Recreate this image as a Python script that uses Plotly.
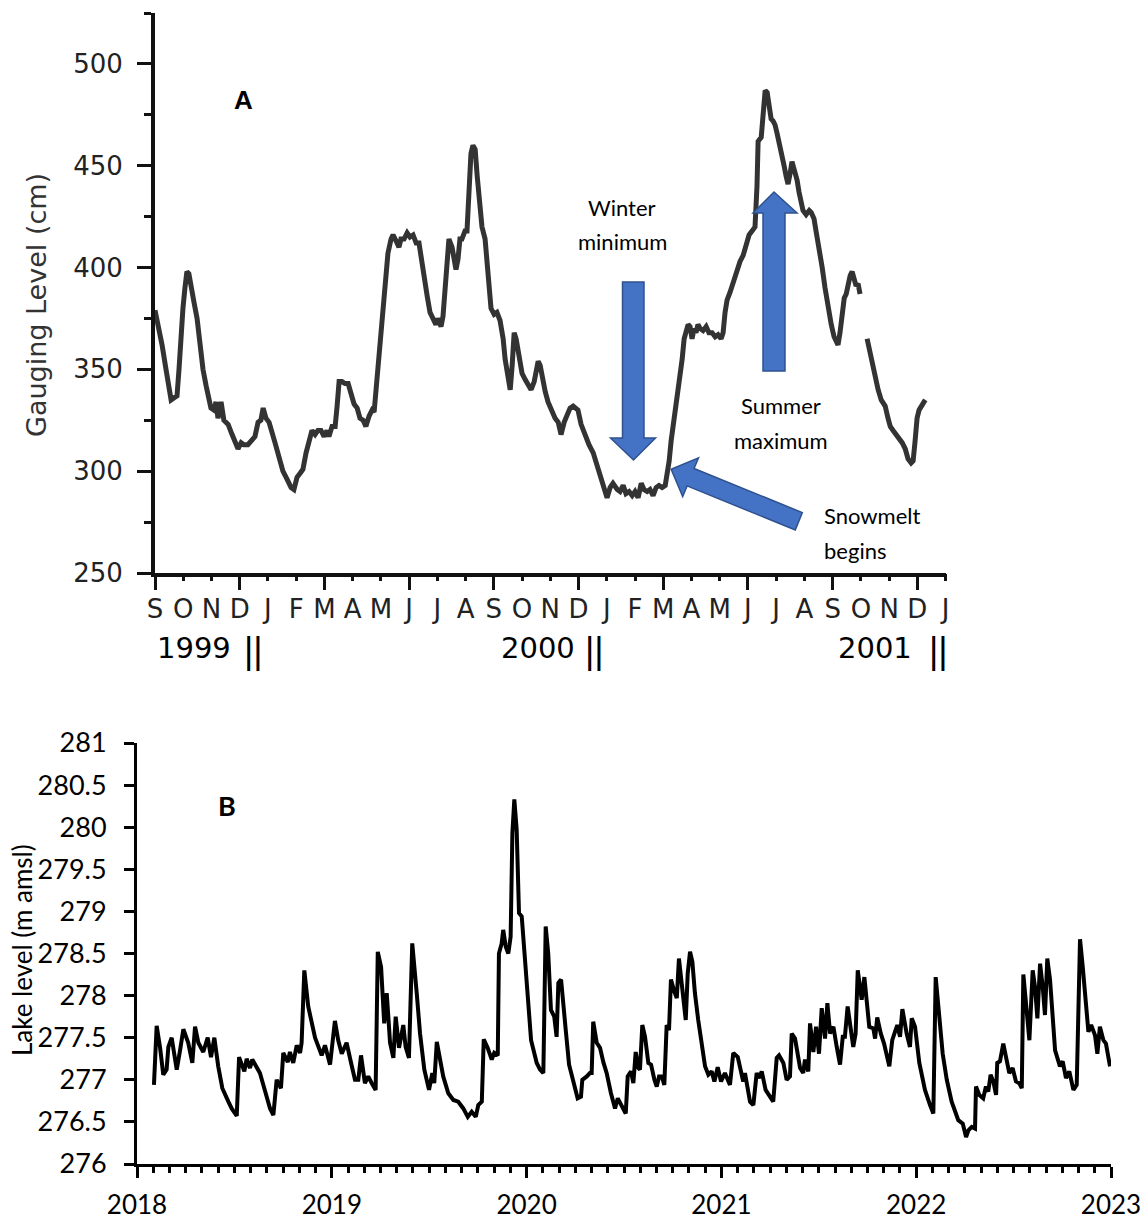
import plotly.graph_objects as go

# ---------------- Panel A data (months since 1 Sep 1999, gauging level cm) ----------------
gauge_month = [
    0.00, 0.11, 0.25, 0.39, 0.50, 0.57, 0.67, 0.78, 0.85, 0.92, 0.99, 1.06, 1.13, 1.20, 1.28, 1.38,
    1.49, 1.59, 1.70, 1.81, 1.91, 1.98, 2.09, 2.16, 2.23, 2.34, 2.44, 2.59, 2.73, 2.83, 2.94, 3.05,
    3.15, 3.29, 3.44, 3.54, 3.65, 3.75, 3.83, 3.93, 4.04, 4.14, 4.25, 4.39, 4.53, 4.68, 4.82, 4.92,
    5.03, 5.14, 5.24, 5.35, 5.46, 5.56, 5.67, 5.77, 5.88, 5.99, 6.09, 6.16, 6.27, 6.38, 6.45, 6.52,
    6.62, 6.73, 6.84, 6.94, 7.05, 7.16, 7.26, 7.37, 7.47, 7.58, 7.69, 7.76, 7.83, 7.90, 7.97, 8.04,
    8.11, 8.18, 8.25, 8.36, 8.43, 8.54, 8.64, 8.71, 8.82, 8.93, 9.03, 9.14, 9.25, 9.35, 9.42, 9.53,
    9.64, 9.74, 9.85, 9.95, 10.02, 10.13, 10.20, 10.27, 10.34, 10.41, 10.52, 10.59, 10.66, 10.73,
    10.80, 10.87, 10.98, 11.05, 11.12, 11.19, 11.26, 11.34, 11.41, 11.48, 11.58, 11.69, 11.76,
    11.83, 11.90, 12.01, 12.11, 12.22, 12.33, 12.40, 12.50, 12.58, 12.65, 12.72, 12.79, 12.89,
    13.00, 13.11, 13.21, 13.32, 13.43, 13.50, 13.57, 13.64, 13.71, 13.82, 13.92, 14.03, 14.17,
    14.28, 14.38, 14.49, 14.59, 14.70, 14.81, 14.91, 14.98, 15.09, 15.23, 15.37, 15.52, 15.66,
    15.80, 15.90, 16.01, 16.12, 16.22, 16.37, 16.47, 16.58, 16.68, 16.79, 16.90, 17.00, 17.11,
    17.22, 17.32, 17.43, 17.53, 17.64, 17.75, 17.85, 17.96, 18.07, 18.14, 18.21, 18.28, 18.35,
    18.46, 18.53, 18.60, 18.67, 18.74, 18.81, 18.88, 18.95, 19.02, 19.09, 19.16, 19.23, 19.31,
    19.41, 19.52, 19.62, 19.73, 19.84, 19.94, 20.05, 20.12, 20.19, 20.26, 20.37, 20.47, 20.58,
    20.72, 20.83, 20.94, 21.04, 21.15, 21.25, 21.32, 21.36, 21.47, 21.54, 21.61, 21.68, 21.75,
    21.82, 21.89, 21.96, 22.03, 22.10, 22.17, 22.28, 22.35, 22.42, 22.49, 22.56, 22.64, 22.74,
    22.81, 22.88, 22.95, 23.06, 23.17, 23.24, 23.34, 23.41, 23.52, 23.63, 23.73, 23.84, 23.95,
    24.05, 24.12, 24.19, 24.26, 24.34, 24.41, 24.48, 24.55, 24.62, 24.69, 24.76, 24.83, 24.90,
    24.97, None,
    25.22, 25.29, 25.40, 25.50, 25.61, 25.72, 25.79, 25.86, 25.96, 26.04, 26.14, 26.25, 26.35,
    26.46, 26.57, 26.67, 26.78, 26.85, 26.92, 26.99, 27.06, 27.17, 27.28,
]
gauge_cm = [
    379, 372, 362, 350, 340, 335, 336, 337, 350, 370, 380, 390, 398, 397, 392, 383,
    375, 360, 350, 342, 334, 331, 330, 334, 326, 334, 325, 323, 318, 314, 311, 314,
    313, 313, 315, 317, 324, 325, 331, 326, 324, 318, 314, 307, 300, 296, 292, 291,
    297, 299, 301, 309, 314, 320, 318, 320, 320, 317, 320, 317, 322, 322, 332, 344,
    344, 343, 343, 338, 333, 331, 326, 325, 322, 327, 330, 329, 340, 352, 362, 375,
    387, 398, 407, 414, 416, 413, 410, 414, 414, 417, 415, 416, 412, 412, 405, 396,
    386, 378, 374, 372, 375, 371, 376, 390, 403, 414, 410, 402, 399, 404,
    414, 414, 418, 418, 440, 456, 460, 458, 445, 432, 420, 414, 400,
    388, 380, 377, 378, 374, 365, 355, 345, 340, 352, 368, 365, 355,
    348, 345, 342, 340, 344, 350, 354, 352, 346, 339, 334, 330, 326,
    324, 318, 324, 328, 331, 332, 331, 330, 323, 317, 313, 309, 303,
    297, 292, 287, 292, 294, 291, 290, 293, 289, 290, 288, 290, 287,
    294, 291, 290, 291, 288, 292, 293, 292, 293, 298, 305, 315, 322,
    332, 340, 345, 355, 365, 370, 372, 371, 365, 370, 368, 372, 370,
    369, 371, 368, 368, 366, 367, 365, 368, 378, 384, 388, 392, 398,
    403, 406, 411, 416, 418, 420, 440, 462, 464, 480, 487, 486, 478,
    473, 472, 470, 466, 462, 458, 450, 445, 441, 446, 452, 448, 443,
    437, 433, 428, 426, 428, 427, 424, 418, 410, 400, 390, 380, 372,
    366, 364, 362, 368, 378, 385, 387, 392, 396, 398, 395, 391, 392,
    387, None,
    365, 360, 352, 345, 340, 335, 333, 332, 326, 322, 320, 318, 316,
    314, 311, 306, 304, 305, 315, 326, 330, 333, 335,
]
month_labels = ["S", "O", "N", "D", "J", "F", "M", "A", "M", "J", "J", "A", "S", "O", "N",
                "D", "J", "F", "M", "A", "M", "J", "J", "A", "S", "O", "N", "D", "J"]
gauge_ticks = [250, 300, 350, 400, 450, 500]

# ---------------- Panel B data (decimal year, lake level m amsl) ----------------
lake_year = [
    2018.087, 2018.101, 2018.118, 2018.135, 2018.152, 2018.161, 2018.178, 2018.204, 2018.221,
    2018.238, 2018.263, 2018.284, 2018.298, 2018.315, 2018.340, 2018.363, 2018.380, 2018.397,
    2018.417, 2018.438, 2018.469, 2018.486, 2018.512, 2018.524, 2018.551, 2018.563, 2018.580,
    2018.592, 2018.631, 2018.657, 2018.683, 2018.700, 2018.717, 2018.739, 2018.751, 2018.774,
    2018.785, 2018.802, 2018.820, 2018.837, 2018.845, 2018.859, 2018.879, 2018.914, 2018.931,
    2018.948, 2018.965, 2018.991, 2019.016, 2019.033, 2019.051, 2019.076, 2019.099, 2019.119,
    2019.136, 2019.150, 2019.170, 2019.187, 2019.205, 2019.225, 2019.236, 2019.253, 2019.269,
    2019.282, 2019.299, 2019.316, 2019.328, 2019.345, 2019.367, 2019.379, 2019.396, 2019.413,
    2019.436, 2019.453, 2019.475, 2019.499, 2019.516, 2019.526, 2019.539, 2019.555, 2019.572,
    2019.598, 2019.624, 2019.649, 2019.675, 2019.698, 2019.718, 2019.739, 2019.752, 2019.770,
    2019.780, 2019.800, 2019.821, 2019.834, 2019.852, 2019.858, 2019.872, 2019.880, 2019.893,
    2019.906, 2019.918, 2019.927, 2019.937, 2019.949, 2019.961, 2019.975, 2019.992, 2020.006,
    2020.023, 2020.052, 2020.069, 2020.086, 2020.098, 2020.111, 2020.125, 2020.142, 2020.154,
    2020.163, 2020.177, 2020.188, 2020.201, 2020.218, 2020.240, 2020.262, 2020.279, 2020.286,
    2020.309, 2020.325, 2020.334, 2020.342, 2020.360, 2020.377, 2020.394, 2020.411, 2020.433,
    2020.454, 2020.468, 2020.488, 2020.509, 2020.519, 2020.536, 2020.548, 2020.560, 2020.574,
    2020.582, 2020.594, 2020.608, 2020.625, 2020.639, 2020.656, 2020.668, 2020.680, 2020.694,
    2020.707, 2020.719, 2020.731, 2020.741, 2020.758, 2020.771, 2020.782, 2020.796, 2020.817,
    2020.827, 2020.839, 2020.851, 2020.864, 2020.881, 2020.899, 2020.916, 2020.933, 2020.950,
    2020.964, 2020.981, 2020.998, 2021.018, 2021.044, 2021.061, 2021.084, 2021.101, 2021.112,
    2021.121, 2021.147, 2021.164, 2021.181, 2021.193, 2021.207, 2021.227, 2021.244, 2021.266,
    2021.284, 2021.296, 2021.318, 2021.335, 2021.352, 2021.361, 2021.378, 2021.404, 2021.420,
    2021.429, 2021.446, 2021.455, 2021.472, 2021.486, 2021.501, 2021.515, 2021.532, 2021.544,
    2021.558, 2021.575, 2021.592, 2021.609, 2021.623, 2021.634, 2021.648, 2021.665, 2021.677,
    2021.689, 2021.700, 2021.720, 2021.734, 2021.759, 2021.780, 2021.789, 2021.800, 2021.818,
    2021.835, 2021.862, 2021.877, 2021.891, 2021.903, 2021.917, 2021.929, 2021.951, 2021.968,
    2021.977, 2021.994, 2022.016, 2022.045, 2022.071, 2022.088, 2022.100, 2022.113, 2022.136,
    2022.157, 2022.182, 2022.216, 2022.239, 2022.256, 2022.268, 2022.285, 2022.302, 2022.307,
    2022.324, 2022.344, 2022.358, 2022.370, 2022.382, 2022.396, 2022.410, 2022.416, 2022.430,
    2022.447, 2022.461, 2022.478, 2022.495, 2022.512, 2022.529, 2022.542, 2022.550, 2022.567,
    2022.581, 2022.598, 2022.610, 2022.622, 2022.636, 2022.650, 2022.661, 2022.673, 2022.687,
    2022.713, 2022.738, 2022.752, 2022.769, 2022.786, 2022.807, 2022.824, 2022.832, 2022.841,
    2022.855, 2022.884, 2022.898, 2022.918, 2022.930, 2022.943, 2022.961, 2022.974, 2022.995,
]
lake_level = [
    276.94, 277.64, 277.39, 277.06, 277.12, 277.39, 277.50, 277.12, 277.35,
    277.60, 277.44, 277.20, 277.63, 277.44, 277.33, 277.50, 277.27, 277.50,
    277.16, 276.90, 276.74, 276.66, 276.57, 277.27, 277.10, 277.25, 277.14,
    277.24, 277.08, 276.88, 276.66, 276.58, 277.00, 276.90, 277.32, 277.21,
    277.33, 277.20, 277.41, 277.32, 277.44, 278.30, 277.87, 277.50, 277.39,
    277.29, 277.41, 277.18, 277.70, 277.47, 277.31, 277.44, 277.20, 277.00,
    277.00, 277.29, 276.96, 277.04, 276.96, 276.88, 278.52, 278.34, 277.67,
    278.03, 277.44, 277.26, 277.75, 277.38, 277.65, 277.39, 277.26, 278.62,
    278.03, 277.55, 277.12, 276.88, 277.08, 276.96, 277.45, 277.24, 277.04,
    276.84, 276.76, 276.74, 276.66, 276.56, 276.62, 276.56, 276.70, 276.74,
    277.48, 277.38, 277.24, 277.32, 277.29, 278.50, 278.62, 278.78, 278.58,
    278.50, 278.70, 279.93, 280.33, 279.97, 278.98, 278.94, 278.34, 277.99,
    277.47, 277.20, 277.12, 277.08, 278.82, 278.50, 277.83, 277.75, 277.51,
    278.15, 278.19, 277.87, 277.59, 277.18, 277.00, 276.78, 276.80, 277.00,
    277.04, 277.08, 277.08, 277.69, 277.44, 277.38, 277.21, 277.08, 276.84,
    276.66, 276.78, 276.68, 276.60, 277.04, 277.10, 276.96, 277.33, 277.14,
    277.12, 277.65, 277.51, 277.20, 277.18, 277.00, 276.92, 277.04, 277.04,
    276.94, 277.65, 277.59, 278.19, 278.05, 277.97, 278.44, 278.15, 277.71,
    278.26, 278.52, 278.40, 278.03, 277.71, 277.39, 277.16, 277.06, 277.10,
    276.98, 277.15, 276.98, 277.08, 276.94, 277.32, 277.27, 277.08, 276.98,
    277.08, 276.74, 276.70, 277.08, 277.02, 277.10, 276.88, 276.82, 276.74,
    277.26, 277.29, 277.20, 277.00, 277.04, 277.55, 277.49, 277.14, 277.08,
    277.24, 277.10, 277.67, 277.33, 277.63, 277.31, 277.85, 277.49, 277.91,
    277.55, 277.63, 277.39, 277.18, 277.51, 277.51, 277.87, 277.63, 277.39,
    277.55, 278.30, 277.95, 278.22, 277.63, 277.61, 277.49, 277.74, 277.55,
    277.43, 277.16, 277.47, 277.57, 277.65, 277.51, 277.84, 277.55, 277.39,
    277.73, 277.63, 277.20, 276.88, 276.70, 276.60, 278.22, 277.87, 277.31,
    277.00, 276.74, 276.52, 276.48, 276.32, 276.40, 276.44, 276.42, 276.92,
    276.82, 276.78, 276.92, 276.86, 277.06, 276.98, 276.82, 277.20, 277.22,
    277.43, 277.29, 277.08, 277.14, 276.98, 276.96, 276.90, 278.25, 277.87,
    277.47, 278.30, 278.10, 277.73, 278.38, 278.09, 277.77, 278.44, 278.19,
    277.35, 277.16, 277.22, 277.02, 277.10, 276.88, 276.94, 277.67, 278.67,
    278.34, 277.57, 277.65, 277.53, 277.31, 277.63, 277.47, 277.43, 277.16,
]
lake_ticks = [276, 276.5, 277, 277.5, 278, 278.5, 279, 279.5, 280, 280.5, 281]
lake_tick_text = ["276", "276.5", "277", "277.5", "278", "278.5", "279", "279.5", "280", "280.5", "281"]
year_ticks = [2018, 2019, 2020, 2021, 2022, 2023]

# ---------------- figure ----------------
W, H = 1147, 1221


def px(x):
    return x / W


def py(y):
    return 1 - y / H


AX = "#111111"
WIDE = "DejaVu Sans, Liberation Sans, sans-serif"
ARIAL = "Liberation Sans, Arial, sans-serif"
CALI = "Lato, Carlito, Calibri, sans-serif"

fig = go.Figure()
fig.add_trace(go.Scatter(x=gauge_month, y=gauge_cm, mode="lines", connectgaps=False,
                         line=dict(color="#333333", width=5), xaxis="x", yaxis="y",
                         showlegend=False, hoverinfo="skip"))
# invisible companion trace so that the month-label axis (x3) is rendered
fig.add_trace(go.Scatter(x=gauge_month, y=gauge_cm, mode="lines", connectgaps=False,
                         line=dict(color="rgba(0,0,0,0)", width=0), xaxis="x3", yaxis="y",
                         showlegend=False, hoverinfo="skip"))
fig.add_trace(go.Scatter(x=lake_year, y=lake_level, mode="lines",
                         line=dict(color="black", width=4), xaxis="x2", yaxis="y2",
                         showlegend=False, hoverinfo="skip"))

domA_x = [px(155), px(945.6)]
domA_y = [py(573), py(13)]
domB_x = [px(137), px(1111)]
domB_y = [py(1164), py(743)]

fig.update_layout(
    template="none",
    width=W, height=H, autosize=False,
    margin=dict(l=0, r=0, t=0, b=0),
    paper_bgcolor="white", plot_bgcolor="white",
    font=dict(family=WIDE, color="#222222"),
    showlegend=False,
    xaxis=dict(domain=domA_x, range=[0, 28], anchor="y", showline=True, linewidth=4,
               linecolor=AX, ticks="outside", tickvals=list(range(0, 28, 3)),
               ticklen=13, tickwidth=3, tickcolor=AX, showticklabels=False,
               showgrid=False, zeroline=False, automargin=False),
    xaxis3=dict(domain=domA_x, range=[0, 28], overlaying="x", anchor="y", side="bottom",
                showline=False, ticks="outside", tickvals=list(range(29)),
                ticktext=month_labels, ticklen=7, tickwidth=3, tickcolor=AX,
                tickfont=dict(family=WIDE, size=26, color="#222222"),
                ticklabelstandoff=6, showgrid=False, zeroline=False, automargin=False),
    yaxis=dict(domain=domA_y, range=[250, 525], anchor="x", showline=True, linewidth=4,
               linecolor=AX, ticks="outside", tickvals=gauge_ticks, ticklen=14,
               tickwidth=3, tickcolor=AX,
               minor=dict(dtick=25, tick0=250, ticks="outside", ticklen=7, tickwidth=3,
                          tickcolor=AX, showgrid=False),
               tickfont=dict(family=WIDE, size=26, color="#222222"),
               ticklabelstandoff=9, showgrid=False, zeroline=False, automargin=False),
    xaxis2=dict(domain=domB_x, range=[2018, 2023], anchor="y2", showline=True, linewidth=3,
                linecolor="black", ticks="outside", tickvals=year_ticks, ticklen=11,
                tickwidth=2.5, tickcolor="black",
                minor=dict(dtick=1 / 12, tick0=2018, ticks="outside", ticklen=6,
                           tickwidth=2.5, tickcolor="black", showgrid=False),
                tickfont=dict(family=CALI, size=26, color="black"),
                ticklabelstandoff=5, showgrid=False, zeroline=False, automargin=False),
    yaxis2=dict(domain=domB_y, range=[276, 281], anchor="x2", showline=True, linewidth=3,
                linecolor="black", ticks="outside", tickvals=lake_ticks,
                ticktext=lake_tick_text, ticklen=10, tickwidth=2.5, tickcolor="black",
                tickfont=dict(family=CALI, size=27, color="black"),
                ticklabelstandoff=12, showgrid=False, zeroline=False, automargin=False),
)


def poly(points):
    d = "M " + " L ".join(f"{px(x):.5f},{py(y):.5f}" for x, y in points) + " Z"
    return dict(type="path", path=d, xref="paper", yref="paper",
                fillcolor="#4472C4", line=dict(color="#2F528F", width=1.5), layer="above")


down_arrow = [(622.5, 282), (644, 282), (644, 438), (655.5, 438), (633.5, 460),
              (610.5, 438), (622.5, 438)]
up_arrow = [(763, 371), (785, 371), (785, 213), (797, 213), (774, 192), (753, 213), (763, 213)]
snow_arrow = [(671.2, 469.3), (698.5, 457.8), (694.1, 468.5), (802.3, 512.6),
              (795.3, 530.0), (687.1, 485.9), (682.7, 496.6)]
fig.update_layout(shapes=[poly(down_arrow), poly(up_arrow), poly(snow_arrow)])


def note(text, x, y, size, family, color="black", anchor="center", bold=False, angle=0):
    t = f"<b>{text}</b>" if bold else text
    return dict(text=t, x=px(x), y=py(y), xref="paper", yref="paper", showarrow=False,
                xanchor=anchor, yanchor="middle", textangle=angle,
                font=dict(size=size, family=family, color=color))


annotations = [
    note("A", 243, 100, 26, ARIAL, bold=True),
    note("Gauging Level (cm)", 36, 305, 27, WIDE, color="#333333", angle=-90),
    note("Winter", 622, 208, 22, CALI),
    note("minimum", 622, 242, 22, CALI),
    note("Summer", 781, 405, 22, CALI),
    note("maximum", 781, 440, 22, CALI),
    note("Snowmelt", 822, 516, 22, CALI, anchor="left"),
    note("begins", 822, 550, 22, CALI, anchor="left"),
    note("1999", 194, 648, 29, WIDE),
    note("||", 253, 650, 36, ARIAL),
    note("2000", 538, 648, 29, WIDE),
    note("||", 594, 650, 36, ARIAL),
    note("2001", 875, 648, 29, WIDE),
    note("||", 938, 650, 36, ARIAL),
    note("B", 227, 805, 27, CALI, bold=True),
    note("Lake level (m amsl)", 22, 950, 26, CALI, angle=-90),
]
fig.update_layout(annotations=annotations)

fig.write_html("out.html", config={"displayModeBar": False},
               post_script="document.body.style.margin='0px';document.body.style.padding='0px';")
